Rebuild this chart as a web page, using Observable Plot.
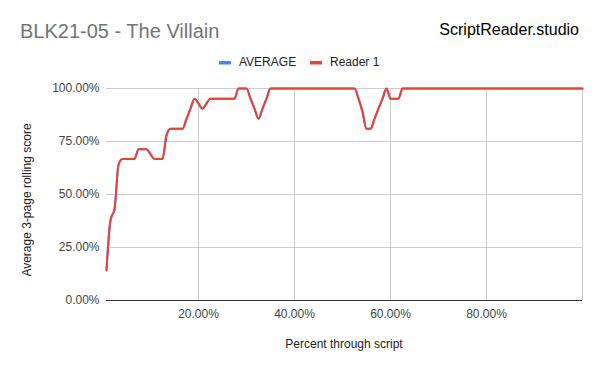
<!DOCTYPE html>
<html>
<head>
<meta charset="utf-8">
<script src="https://cdn.jsdelivr.net/npm/d3@7"></script>
<script src="https://cdn.jsdelivr.net/npm/@observablehq/plot@0.6"></script>
<style>
  html, body { margin: 0; padding: 0; background: #fff; }
  #chart svg { display: block; }
</style>
</head>
<body>
<div id="chart"></div>
<script>
// ---- data ----
const chartTitle = "BLK21-05 - The Villain";
const brand = "ScriptReader.studio";
const seriesNames = ["AVERAGE", "Reader 1"];
const seriesColors = ["#4285f4", "#ea4335"];
const xTitle = "Percent through script";
const yTitle = "Average 3-page rolling score";
const pageCount = 120;
// rolling score (%) per page, pages 1..120
const scores = [
  14.3, 38, 43, 64, 66.7, 66.7, 66.7, 66.7, 71.4, 71.4,
  71.4, 69, 66.7, 66.7, 66.7, 78, 81, 81, 81, 81,
  85.7, 90.5, 95.2, 92.9, 90.5, 93, 95.2, 95.2, 95.2, 95.2,
  95.2, 95.2, 95.2, 100, 100, 100, 95.2, 90.5, 85.7, 90.5,
  95.2, 100, 100, 100, 100, 100, 100, 100, 100, 100,
  100, 100, 100, 100, 100, 100, 100, 100, 100, 100,
  100, 100, 100, 95.2, 89, 81, 81, 85.7, 90.5, 95.2,
  100, 95.2, 95.2, 95.2, 100, 100, 100, 100, 100, 100,
  100, 100, 100, 100, 100, 100, 100, 100, 100, 100,
  100, 100, 100, 100, 100, 100, 100, 100, 100, 100,
  100, 100, 100, 100, 100, 100, 100, 100, 100, 100,
  100, 100, 100, 100, 100, 100, 100, 100, 100, 100
];
const xTicks = [0.2, 0.4, 0.6, 0.8];
const yTicks = [0, 0.25, 0.5, 0.75, 1];

// table built from the arrays
const data = scores.map((s, i) => ({ pct: (i + 1) / pageCount, score: s / 100 }));

const fmt = d3.format(".2%");
const font = "'Liberation Sans', Arial, Helvetica, sans-serif";

const chart = Plot.plot({
  width: 600,
  height: 371,
  marginLeft: 106,
  marginRight: 18,
  marginTop: 88,
  marginBottom: 71,
  style: { fontFamily: font, fontSize: "12px", background: "#fff" },
  x: { domain: [1 / pageCount, 1] },
  y: { domain: [0, 1] },
  marks: [
    Plot.gridY(yTicks, { stroke: "#cccccc", strokeOpacity: 1 }),
    Plot.gridX(xTicks, { stroke: "#cccccc", strokeOpacity: 1 }),
    Plot.ruleX([1], { stroke: "#cccccc" }),
    Plot.axisY(yTicks, { tickSize: 0, tickPadding: 7, tickFormat: fmt, label: null, fontSize: 12, color: "#444" }),
    Plot.axisX(xTicks, { tickSize: 0, tickPadding: 9, tickFormat: fmt, label: null, fontSize: 12, color: "#444" }),
    Plot.ruleY([0], { stroke: "#333333", strokeWidth: 1 }),
    Plot.line(data, { x: "pct", y: "score", stroke: seriesColors[0], strokeWidth: 2, curve: "monotone-x" }),
    Plot.line(data, { x: "pct", y: "score", stroke: seriesColors[1], strokeWidth: 2, curve: "monotone-x" })
  ]
});

const svg = d3.select(chart);
svg.append("text")
  .attr("x", 20).attr("y", 38).attr("text-anchor", "start")
  .attr("font-family", font).attr("font-size", 20).attr("fill", "#757575")
  .text(chartTitle);
svg.append("text")
  .attr("x", 579).attr("y", 35).attr("text-anchor", "end")
  .attr("font-family", font).attr("font-size", 16).attr("fill", "#000")
  .text(brand);

// legend
const legendX = [219, 310];
seriesNames.forEach((name, i) => {
  svg.append("rect")
    .attr("x", legendX[i]).attr("y", 61).attr("width", 12).attr("height", 3.5)
    .attr("fill", seriesColors[i]);
  svg.append("text")
    .attr("x", legendX[i] + 20).attr("y", 65.5).attr("text-anchor", "start")
    .attr("font-family", font).attr("font-size", 12).attr("fill", "#222")
    .text(name);
});

svg.append("text")
  .attr("x", 344).attr("y", 348).attr("text-anchor", "middle")
  .attr("font-family", font).attr("font-size", 12).attr("fill", "#222")
  .text(xTitle);
svg.append("text")
  .attr("transform", "translate(31,200) rotate(-90)").attr("text-anchor", "middle")
  .attr("font-family", font).attr("font-size", 12).attr("fill", "#222")
  .text(yTitle);

document.getElementById("chart").appendChild(chart);
</script>
</body>
</html>
